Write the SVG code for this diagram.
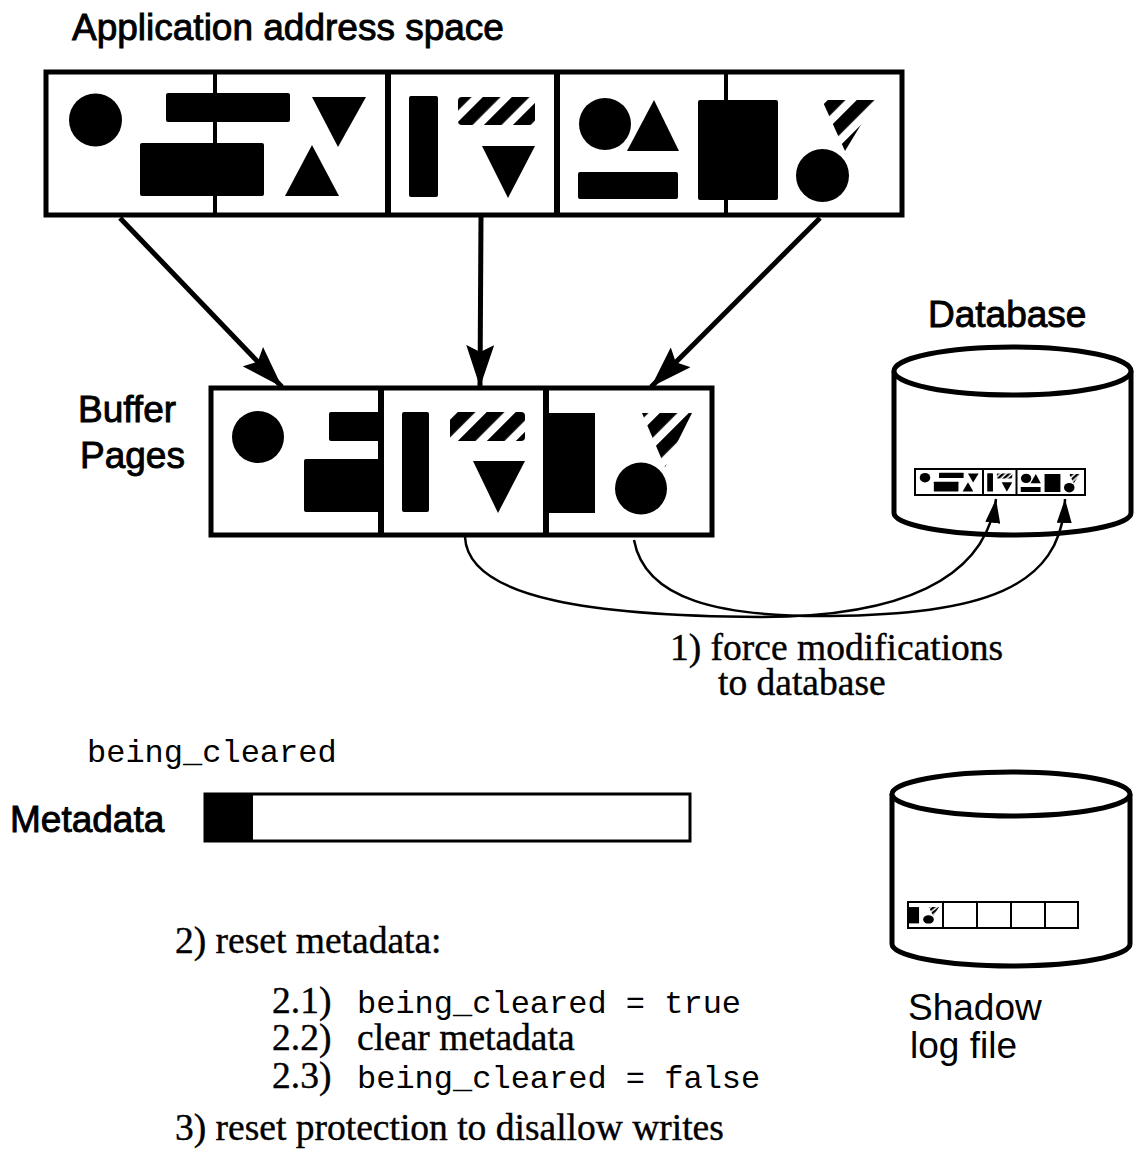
<svg xmlns="http://www.w3.org/2000/svg" xmlns:xlink="http://www.w3.org/1999/xlink" width="1137" height="1151" viewBox="0 0 1137 1151">
  <style>
    .sans { font-family: "Liberation Sans", Arial, sans-serif; font-size: 37px; fill: #000; }
    .heavy-text { stroke: #000; stroke-width: 0.9; }
    .serif { font-family: "Liberation Serif", "Times New Roman", serif; font-size: 37.5px; fill: #000; stroke: #000; stroke-width: 0.4; }
    .mono { font-family: "Liberation Mono", "Courier New", monospace; font-size: 32px; fill: #000; }
    .box { fill: #fff; stroke: #000; stroke-width: 5; }
    .ink { fill: #000; }
    .hatch { fill: url(#hatch); }
    .page-edge { stroke: #000; stroke-width: 6; fill: none; }
    .obj-edge { stroke: #000; stroke-width: 4; fill: none; }
    .heavy { fill: none; stroke: #000; stroke-width: 5; }
    .thin { fill: none; stroke: #000; stroke-width: 2.5; }
    .disk { fill: #fff; stroke: #000; stroke-width: 5; }
  </style>
  <defs>
    <!-- diagonal hatching used for the striped objects -->
    <pattern id="hatch" patternUnits="userSpaceOnUse" width="20.5" height="20.5" patternTransform="rotate(45)">
      <rect x="0" y="0" width="12.5" height="20.5" fill="#000"/>
    </pattern>
    <marker id="arrow-big" markerUnits="userSpaceOnUse" markerWidth="42" markerHeight="28" refX="42" refY="14" orient="auto">
      <path d="M0,0 L42,14 L0,28 L7,14 z" fill="#000"/>
    </marker>
    <marker id="arrow-small" markerUnits="userSpaceOnUse" markerWidth="24" markerHeight="15" refX="24" refY="7.5" orient="auto">
      <path d="M0,0 L24,7.5 L0,15 z" fill="#000"/>
    </marker>
    <!-- objects living in the application address space -->
    <g id="app-objects">
      <circle class="ink" cx="95.5" cy="120" r="26.5"/>
      <rect class="ink" x="166" y="93" width="124" height="29" rx="2"/>
      <rect class="ink" x="140" y="143" width="124" height="53" rx="2"/>
      <polygon class="ink" points="312,97 366,97 338,147"/>
      <polygon class="ink" points="312,145 339,196 285,196"/>
      <rect class="ink" x="409" y="96" width="29" height="101" rx="2"/>
      <rect class="hatch" x="458" y="97" width="77" height="28" rx="4"/>
      <polygon class="ink" points="482,146 535,146 508,198"/>
      <circle class="ink" cx="605" cy="124" r="26"/>
      <polygon class="ink" points="654,100 679,151 627,151"/>
      <rect class="ink" x="578" y="172" width="100" height="27" rx="2"/>
      <rect class="ink" x="698" y="100" width="80" height="100" rx="2"/>
      <polygon class="hatch" points="822,100 876,100 845,151"/>
      <circle class="ink" cx="822.5" cy="175.5" r="26.5"/>
    </g>
    <!-- contents of the third buffer page -->
    <g id="buffer-page3-objects">
      <rect class="ink" x="546" y="413" width="49" height="100"/>
      <polygon class="hatch" points="642,413 692,413 665,467"/>
      <circle class="ink" cx="641" cy="488.5" r="26"/>
    </g>
  </defs>

  <rect width="1137" height="1151" fill="#fff"/>

  <!-- application address space -->
  <g id="app-space">
    <text class="sans heavy-text" x="72" y="40" font-size="38">Application address space</text>
    <rect class="box" x="46" y="72" width="856" height="143"/>
    <line class="obj-edge" x1="215" y1="72" x2="215" y2="215"/>
    <line class="obj-edge" x1="726" y1="72" x2="726" y2="215"/>
    <line class="page-edge" x1="388" y1="72" x2="388" y2="215"/>
    <line class="page-edge" x1="557" y1="72" x2="557" y2="215"/>
    <use xlink:href="#app-objects" href="#app-objects"/>
  </g>

  <!-- buffer pages -->
  <g id="buffer-pages">
    <text class="sans heavy-text" x="78" y="422">Buffer</text>
    <text class="sans heavy-text" x="80" y="468">Pages</text>
    <rect class="box" x="211" y="388" width="501" height="147"/>
    <line class="page-edge" x1="381" y1="388" x2="381" y2="535"/>
    <line class="page-edge" x1="546" y1="388" x2="546" y2="535"/>
    <circle class="ink" cx="258" cy="437" r="26"/>
    <rect class="ink" x="329" y="412" width="52" height="29" rx="2"/>
    <rect class="ink" x="304" y="459" width="77" height="53" rx="2"/>
    <rect class="ink" x="402" y="412" width="27" height="100" rx="2"/>
    <rect class="hatch" x="450" y="412" width="75" height="29" rx="4"/>
    <polygon class="ink" points="473,461 525,461 498,513"/>
    <use xlink:href="#buffer-page3-objects" href="#buffer-page3-objects"/>
  </g>

  <!-- database disk -->
  <g id="database">
    <text class="sans heavy-text" x="928" y="327">Database</text>
    <path class="disk" d="M894,371 L894,513 A118.5,22 0 0 0 1131,513 L1131,371"/>
    <ellipse class="disk" cx="1012.5" cy="371" rx="118.5" ry="24"/>
    <rect x="915" y="469" width="170" height="26" fill="#fff" stroke="#000" stroke-width="2"/>
    <g transform="translate(915,469) scale(0.1984,0.1806) translate(-45,-72)">
      <use xlink:href="#app-objects" href="#app-objects"/>
    </g>
    <line x1="983" y1="469" x2="983" y2="495" stroke="#000" stroke-width="2"/>
    <line x1="1016.5" y1="469" x2="1016.5" y2="495" stroke="#000" stroke-width="2"/>
  </g>

  <!-- metadata area -->
  <g id="metadata">
    <text class="mono" x="87" y="762">being_cleared</text>
    <text class="sans heavy-text" x="10" y="832" font-size="38">Metadata</text>
    <rect x="205" y="794" width="485" height="47" fill="#fff" stroke="#000" stroke-width="3"/>
    <rect x="205" y="794" width="48" height="47" fill="#000"/>
  </g>

  <!-- shadow log file disk -->
  <g id="shadow-log">
    <path class="disk" d="M892,794 L892,944 A119,22 0 0 0 1130,944 L1130,794"/>
    <ellipse class="disk" cx="1011" cy="794" rx="119" ry="22"/>
    <rect x="908" y="902" width="170" height="26" fill="#fff" stroke="#000" stroke-width="2"/>
    <g stroke="#000" stroke-width="2">
      <line x1="943" y1="902" x2="943" y2="928"/>
      <line x1="977" y1="902" x2="977" y2="928"/>
      <line x1="1011" y1="902" x2="1011" y2="928"/>
      <line x1="1045" y1="902" x2="1045" y2="928"/>
    </g>
    <g transform="translate(909,903) scale(0.205,0.163) translate(-546,-388)">
      <use xlink:href="#buffer-page3-objects" href="#buffer-page3-objects"/>
    </g>
    <text class="sans" x="908" y="1020">Shadow</text>
    <text class="sans" x="910" y="1058">log file</text>
  </g>

  <!-- connectors -->
  <g id="connectors">
    <line class="heavy" x1="120" y1="218" x2="282" y2="387" marker-end="url(#arrow-big)"/>
    <line class="heavy" x1="481" y1="217" x2="480" y2="387" marker-end="url(#arrow-big)"/>
    <line class="heavy" x1="820" y1="218" x2="651" y2="387" marker-end="url(#arrow-big)"/>
    <path class="thin" d="M465,537 C468,600 600,616 760,617 C900,617 985,580 996,499" marker-end="url(#arrow-small)"/>
    <path class="thin" d="M634,540 C645,600 720,617 830,616 C980,614 1062,590 1065,499" marker-end="url(#arrow-small)"/>
  </g>

  <!-- step descriptions -->
  <g id="steps">
    <text class="serif" x="670" y="660">1) force modifications</text>
    <text class="serif" x="718" y="695">to database</text>
    <text class="serif" x="175" y="953">2) reset metadata:</text>
    <text x="272" y="1013"><tspan class="serif">2.1)</tspan><tspan class="mono" x="357">being_cleared = true</tspan></text>
    <text x="272" y="1050"><tspan class="serif">2.2)</tspan><tspan class="serif" x="357">clear metadata</tspan></text>
    <text x="272" y="1088"><tspan class="serif">2.3)</tspan><tspan class="mono" x="357">being_cleared = false</tspan></text>
    <text class="serif" x="175" y="1140">3) reset protection to disallow writes</text>
  </g>
</svg>
